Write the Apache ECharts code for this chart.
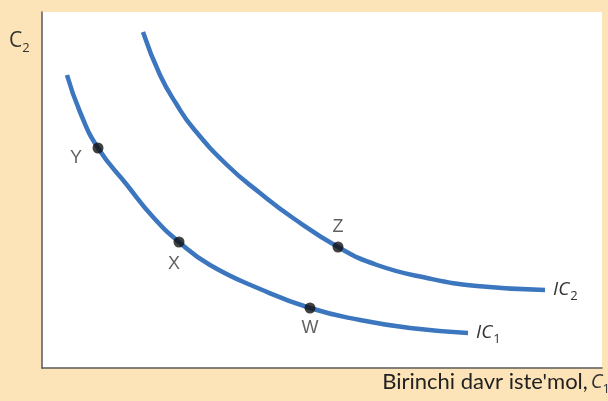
<!DOCTYPE html>
<html>
<head>
<meta charset="utf-8">
<script src="https://cdn.jsdelivr.net/npm/echarts@6/dist/echarts.min.js"></script>
<style>
  html, body { margin: 0; padding: 0; background: #fde4b8; }
  #chart { width: 608px; height: 401px; }
</style>
</head>
<body>
<div id="chart"></div>
<script>
// indifference curves (arbitrary units)
var ic1X = [25, 38, 56, 85, 111, 137, 168, 218, 268, 318, 368, 426];
var ic1Y = [293, 256, 220, 183, 151, 126, 103, 79, 60, 48, 40, 35];
var ic2X = [101, 118, 135, 151, 185, 218, 251, 296, 335, 385, 435, 503];
var ic2Y = [336, 293, 263, 240, 203, 175, 150, 121, 103, 90, 82, 78];

var pointNames = ['Y', 'X', 'W', 'Z'];
var pointX = [56, 137, 268, 296];
var pointY = [220, 126, 60, 121];
var labelOffsets = [[-22, 10], [-5, 22], [0, 20], [0, -20]];

var curveNames = ['1', '2'];

function pairs(xs, ys) {
    var out = [];
    for (var i = 0; i < xs.length; i++) {
        out.push([xs[i], ys[i]]);
    }
    return out;
}

var blue = '#3b76be';
var icRich = {
    a: { fontFamily: 'Open Sans', fontStyle: 'italic', fontSize: 19, color: '#333' },
    b: { fontFamily: 'Open Sans', fontSize: 13, color: '#333', padding: [13, 0, 0, 1] }
};

var points = [];
for (var i = 0; i < pointNames.length; i++) {
    points.push({
        value: [pointX[i], pointY[i]],
        name: pointNames[i],
        label: { offset: labelOffsets[i] }
    });
}

var myChart = echarts.init(document.getElementById('chart'));
var option = {
    backgroundColor: '#fde4b8',
    animation: false,
    grid: {
        left: 42, top: 12, right: 6, bottom: 33,
        show: true, backgroundColor: '#ffffff', borderWidth: 0
    },
    xAxis: {
        type: 'value', min: 0, max: 560,
        axisLine: { show: true, lineStyle: { color: '#5a5a5a', width: 1.5 } },
        axisTick: { show: false }, axisLabel: { show: false }, splitLine: { show: false }
    },
    yAxis: {
        type: 'value', min: 0, max: 356,
        axisLine: { show: true, lineStyle: { color: '#5a5a5a', width: 1.5 } },
        axisTick: { show: false }, axisLabel: { show: false }, splitLine: { show: false }
    },
    graphic: [
        {
            type: 'text', left: 9, top: 31,
            style: {
                text: '{a|C}{b|2}',
                rich: {
                    a: { fontFamily: 'Open Sans', fontSize: 21, fill: '#333' },
                    b: { fontFamily: 'Open Sans', fontSize: 13, fill: '#333', padding: [14, 0, 0, 0] }
                }
            }
        },
        {
            type: 'text', right: -2, top: 371,
            style: {
                text: "{t|Birinchi davr iste'mol,}{a|C}{b|1}",
                rich: {
                    t: { fontFamily: 'Lato', fontSize: 22, fill: '#222' },
                    a: { fontFamily: 'Open Sans', fontStyle: 'italic', fontSize: 20, fill: '#333', padding: [0, 0, 0, 3] },
                    b: { fontFamily: 'Open Sans', fontSize: 13, fill: '#333', padding: [14, 0, 0, 0] }
                }
            }
        }
    ],
    series: [
        {
            name: 'IC1', type: 'line', smooth: 0.5, symbol: 'none',
            data: pairs(ic1X, ic1Y),
            lineStyle: { color: blue, width: 4.5 },
            endLabel: { show: true, distance: 8, formatter: '{a|IC}{b|' + curveNames[0] + '}', rich: icRich }
        },
        {
            name: 'IC2', type: 'line', smooth: 0.5, symbol: 'none',
            data: pairs(ic2X, ic2Y),
            lineStyle: { color: blue, width: 4.5 },
            endLabel: { show: true, distance: 8, formatter: '{a|IC}{b|' + curveNames[1] + '}', rich: icRich }
        },
        {
            name: 'points', type: 'scatter', symbolSize: 11,
            itemStyle: { color: '#111' },
            data: points,
            z: 5,
            label: {
                show: true, position: 'inside', formatter: '{b}',
                fontFamily: 'Liberation Sans', fontSize: 18, color: '#3a3a3a'
            }
        }
    ]
};
myChart.setOption(option);
</script>
</body>
</html>
